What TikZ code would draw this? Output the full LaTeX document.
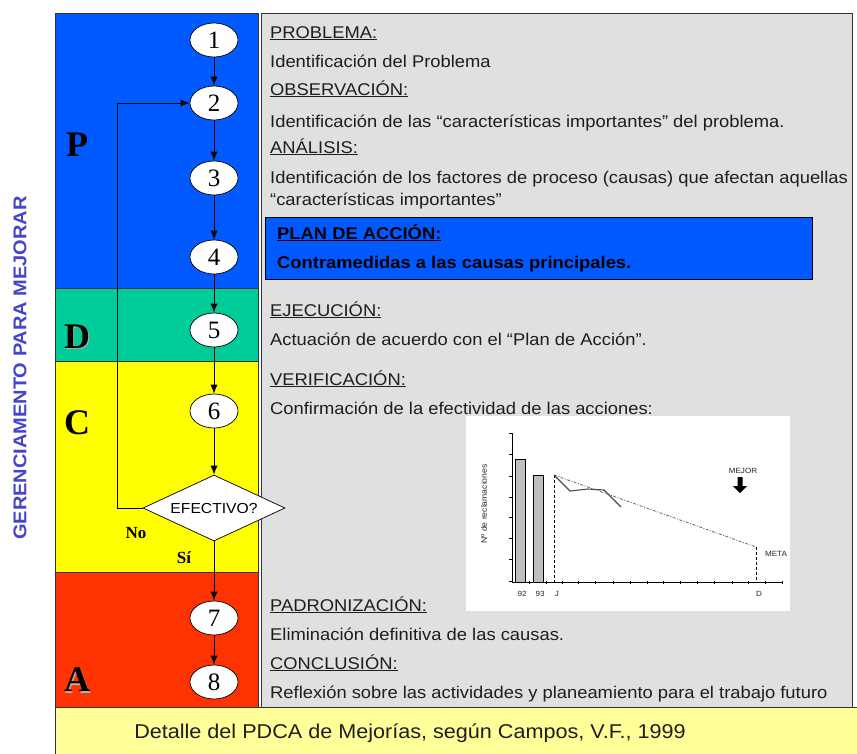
\documentclass[tikz,border=0pt]{standalone}
\usepackage{fontspec}
\setmainfont{Liberation Sans}[FakeStretch=1.08]
\newfontfamily\serifff{Liberation Serif}
\usetikzlibrary{arrows.meta,shapes.geometric}
\definecolor{pblue}{RGB}{0,90,255}
\definecolor{dgreen}{RGB}{0,204,153}
\definecolor{cyellow}{RGB}{255,255,0}
\definecolor{ared}{RGB}{255,51,0}
\definecolor{panelgray}{RGB}{224,224,224}
\definecolor{noteyellow}{RGB}{255,255,153}
\definecolor{vtext}{RGB}{68,68,204}
\definecolor{txtcol}{RGB}{30,30,30}
\begin{document}
\begin{tikzpicture}[x=1pt,y=-1pt,
  sect/.style={draw=black!80,line width=1pt},
  stepell/.style={ellipse,draw=black,line width=0.7pt,fill=white,minimum width=48pt,minimum height=34pt,inner sep=0pt,font=\serifff\fontsize{25}{25}\selectfont},
  arr/.style={-{Latex[length=9pt,width=7pt]},line width=0.8pt},
  txt/.style={anchor=base west,inner sep=0pt,text=txtcol,font=\fontsize{17}{20}\selectfont},
  bigletter/.style={inner sep=0pt,font=\serifff\bfseries\fontsize{36}{36}\selectfont},
  small/.style={inner sep=0pt,text=black!85,font=\fontsize{7.5}{7.5}\selectfont},
]
\useasboundingbox (0,0) rectangle (857,753);
\fill[white] (0,0) rectangle (857,753);
% left panel sections
\filldraw[sect,fill=pblue] (55,13) rectangle (258,288);
\filldraw[sect,fill=dgreen] (55,288) rectangle (258,361);
\filldraw[sect,fill=cyellow] (55,361) rectangle (258,572);
\filldraw[sect,fill=ared] (55,572) rectangle (258,707);
% right panel
\filldraw[sect,fill=panelgray] (261,13) rectangle (852,707);
% bottom strip
\filldraw[sect,fill=noteyellow] (55,707) rectangle (857,760);
\node[inner sep=0pt,text=txtcol,font=\fontsize{20}{22}\selectfont] (foot) at (410,733) {Detalle del PDCA de Mejorías, según Campos, V.F., 1999};
% vertical label
\node[rotate=90,inner sep=0pt,text=vtext,font=\bfseries\fontsize{18.5}{18.5}\selectfont] (vlab) at (20,368) {GERENCIAMENTO PARA MEJORAR};
% big letters (D and A with shadow)
\foreach \L/\yy in {D/337,A/680}{
  \node[bigletter,text=black!30] at (78.2,\yy+1.2) {\L};
}
\node[bigletter] (lp) at (77,145) {P};
\node[bigletter] (ld) at (77,337) {D};
\node[bigletter] (lc) at (77,423) {C};
\node[bigletter] (la) at (77,680) {A};
% steps
\node[stepell] (n1) at (214,40) {1};
\node[stepell] (n2) at (214,103) {2};
\node[stepell] (n3) at (214,178) {3};
\node[stepell] (n4) at (214,257) {4};
\node[stepell] (n5) at (214,330) {5};
\node[stepell] (n6) at (214,411) {6};
\node[diamond,draw=black,line width=0.7pt,fill=white,minimum width=142pt,minimum height=66pt,aspect=2.15,inner sep=0pt,font=\fontsize{14.5}{16}\selectfont] (dia) at (214,508) {EFECTIVO?};
\node[stepell] (n7) at (214,618) {7};
\node[stepell] (n8) at (214,682) {8};
\draw[arr] (n1) -- (n2);
\draw[arr] (n2) -- (n3);
\draw[arr] (n3) -- (n4);
\draw[arr] (n4) -- (n5);
\draw[arr] (n5) -- (n6);
\draw[arr] (n6) -- (dia);
\draw[arr] (dia) -- (n7);
\draw[arr] (n7) -- (n8);
\coordinate (fb) at (117,508);
\draw[arr] (dia.west) -- (fb) |- (n2.west);
\node[inner sep=0pt,font=\serifff\bfseries\fontsize{17}{17}\selectfont] (no) at (136,533) {No};
\node[inner sep=0pt,font=\serifff\bfseries\fontsize{17}{17}\selectfont] (si) at (184,558) {Sí};
% right texts
\node[txt] (t1) at (270,38) {\underline{PROBLEMA:}};
\node[txt] (t2) at (270,67) {Identificación del Problema};
\node[txt] (t3) at (270,95) {\underline{OBSERVACIÓN:}};
\node[txt] (t4) at (270,127) {Identificación de las “características importantes” del problema.};
\node[txt] (t5) at (270,153) {\underline{ANÁLISIS:}};
\node[txt] (t6) at (270,183) {Identificación de los factores de proceso (causas) que afectan aquellas};
\node[txt] (t7) at (270,205) {“características importantes”};
\filldraw[draw=black,line width=1pt,fill=pblue] (265,217) rectangle (812,279);
\node[txt,text=black,font=\bfseries\fontsize{17}{20}\selectfont] (t8) at (277,239) {\underline{PLAN DE ACCIÓN:}};
\node[txt,text=black,font=\bfseries\fontsize{17}{20}\selectfont] (t9) at (277,268) {Contramedidas a las causas principales.};
\node[txt] (t10) at (270,316) {\underline{EJECUCIÓN:}};
\node[txt] (t11) at (270,345) {Actuación de acuerdo con el “Plan de Acción”.};
\node[txt] (t12) at (270,385) {\underline{VERIFICACIÓN:}};
\node[txt] (t13) at (270,414) {Confirmación de la efectividad de las acciones:};
\node[txt] (t14) at (270,611) {\underline{PADRONIZACIÓN:}};
\node[txt] (t15) at (270,640) {Eliminación definitiva de las causas.};
\node[txt] (t16) at (270,669) {\underline{CONCLUSIÓN:}};
\node[txt] (t17) at (270,698) {Reflexión sobre las actividades y planeamiento para el trabajo futuro};
% chart
\fill[white] (466,416) rectangle (790,611);
\draw[line width=0.7pt] (512,433) -- (512,582) -- (782,582);
\foreach \ty in {433,454,476,497,517,538,559,581} \draw[line width=0.6pt] (509,\ty) -- (512,\ty);
\foreach \tx in {529,546,562,578,595,613,630,647,663,680,697,714,732,748,765,782} \draw[line width=0.9pt] (\tx,580.5) -- (\tx,583.5);
\filldraw[fill=black!25,draw=black,line width=0.8pt] (515.7,459) rectangle (525,582);
\filldraw[fill=black!25,draw=black,line width=0.8pt] (533,475) rectangle (543,582);
\draw[line width=0.8pt,dash pattern=on 3pt off 2pt] (554,475) -- (554,582);
\draw[black!60,line width=0.8pt,dash pattern=on 3pt off 1.5pt on 1pt off 1.5pt] (554,475) -- (756,547);
\draw[line width=1pt,dash pattern=on 3pt off 2pt] (756,547) -- (756,582);
\draw[black!70,line width=1.1pt] (554,475) -- (570,491) -- (588,489) -- (604,490) -- (621,507);
\fill[black] (737.5,477) -- (742.5,477) -- (742.5,486) -- (747,486) -- (740,493) -- (733,486) -- (737.5,486) -- cycle;
\node[small] (mejor) at (743,471) {MEJOR};
\node[small] (meta) at (776,554) {META};
\node[small] (l92) at (522,594) {92};
\node[small] (l93) at (540,594) {93};
\node[small] (lj) at (557,594) {J};
\node[small] (ld2) at (759,594) {D};
\node[small,rotate=90,font=\fontsize{8}{8}\selectfont] (ylab) at (484,504) {Nº de reclamaciones};
\end{tikzpicture}
\end{document}
